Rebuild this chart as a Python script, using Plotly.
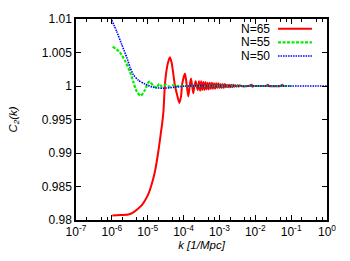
import plotly.graph_objects as go

# ---- data (log10 k, C2) ----
red_logk = [-5.988, -5.75, -5.542, -5.40, -5.263, -5.16, -5.076, -4.98, -4.889, -4.797, -4.705, -4.630,
            -4.593, -4.560, -4.518, -4.443, -4.379, -4.33, -4.287, -4.24, -4.192, -4.119, -4.07, -4.036,
            -3.960, -3.91, -3.868, -3.83, -3.793, -3.76, -3.729, -3.70, -3.662, -3.635, -3.606,
            -3.57, -3.54, -3.51, -3.48, -3.45, -3.42, -3.39, -3.36, -3.33, -3.30, -3.27, -3.24, -3.21,
            -3.18, -3.15, -3.12, -3.09, -3.06, -3.03, -3.00, -2.97, -2.94, -2.91, -2.88, -2.85, -2.82,
            -2.79, -2.76, -2.73, -2.70, -2.67, -2.64, -2.61, -2.58, -2.55, -2.52, -2.49, -2.46, -2.43,
            -2.40, -2.20, -2.10, -2.08, -2.05, -1.70, -1.65, -1.62, -1.30, -1.25, -1.22, -1.15]
red_c2 = [0.98068, 0.98075, 0.98083, 0.98115, 0.98170, 0.98225, 0.98291, 0.98390, 0.98534, 0.98728,
          0.99019, 0.99311, 0.99456, 0.99630, 1.00039, 1.00330, 1.00428, 1.00340, 1.00185, 1.00000,
          0.99893, 0.99748, 0.99850, 1.00039, 1.00185, 1.00000, 0.99845, 1.00000, 1.00112, 1.00000,
          0.99893, 1.00000, 1.00072, 1.00000, 0.99941,
          1.0007, 0.9993, 1.0007, 0.9994, 1.0006, 0.9994, 1.0006, 0.9995, 1.0005, 0.9995, 1.0005,
          0.9996, 1.0005, 0.9996, 1.0004, 0.9996, 1.0004, 0.9997, 1.0004, 0.9997, 1.0003, 0.9997,
          1.0003, 0.9997, 1.0003, 0.9998, 1.0002, 0.9998, 1.0002, 0.9998, 1.0002, 0.9998, 1.0002,
          0.9999, 1.0001, 0.9999, 1.0001, 0.9999, 1.0001,
          1.0000, 1.0000, 1.0002, 0.9999, 1.0000, 1.0000, 1.0002, 1.0000, 1.0000, 1.0002, 1.0000, 1.0000]

green_logk = [-5.977, -5.773, -5.634, -5.494, -5.402, -5.307, -5.196, -5.076, -4.984, -4.936, -4.844,
              -4.750, -4.677, -4.60, -4.50, -4.40, -4.30, -4.20, -4.00, -3.50, -3.00, -2.00, -1.00]
green_c2 = [1.00588, 1.00500, 1.00378, 1.00209, 1.00064, 0.99918, 0.99854, 0.99941, 1.00053, 1.00064,
            0.99999, 0.99980, 1.00029, 0.99990, 1.00020, 0.99990, 1.00010, 1.00000, 1.00000, 1.00000,
            1.00000, 1.00000, 1.00000]

blue_logk = [-6.004, -5.865, -5.726, -5.586, -5.494, -5.402, -5.263, -5.076, -4.844, -4.566, -4.287,
             -3.913, -3.00, -2.00, -1.00, 0.00]
blue_c2 = [1.00985, 1.00815, 1.00621, 1.00428, 1.00282, 1.00170, 1.00087, 1.00029, 0.99980, 0.99966,
           0.99980, 1.00000, 1.00000, 1.00000, 1.00000, 1.00000]

series_names = ["N=65", "N=55", "N=50"]
x_tick_exps = [-7, -6, -5, -4, -3, -2, -1, 0]
y_ticks = [0.98, 0.985, 0.99, 0.995, 1.0, 1.005, 1.01]
y_tick_text = ["0.98", "0.985", "0.99", "0.995", "1", "1.005", "1.01"]

FONT = "Liberation Sans, Arial, Helvetica, sans-serif"
RED, GREEN, BLUE = "#ff0000", "#00ee00", "#0000ff"
styles = [dict(color=RED, width=2, dash="solid"),
          dict(color=GREEN, width=2.2, dash="3px,1.5px"),
          dict(color=BLUE, width=1.6, dash="1.5px,1px")]

fig = go.Figure()
for name, lk, c2, st in zip(series_names, [red_logk, green_logk, blue_logk],
                            [red_c2, green_c2, blue_c2], styles):
    fig.add_trace(go.Scatter(x=[10 ** v for v in lk], y=c2, mode="lines", name=name,
                             line=dict(color=st["color"], width=st["width"], dash=st["dash"],
                                       shape="spline", smoothing=0.6),
                             showlegend=False))

minor_vals = [m * 10 ** e for e in x_tick_exps[:-1] for m in (2, 5, 7.5)]

fig.update_layout(
    width=350, height=261,
    margin=dict(l=76, r=23, t=14, b=41),
    paper_bgcolor="white", plot_bgcolor="white",
    font=dict(family=FONT, size=12, color="black"),
    xaxis=dict(type="log", range=[-7, 0],
               tickvals=[10 ** e for e in x_tick_exps],
               ticktext=[f"10<sup>{e}</sup>" for e in x_tick_exps],
               ticks="inside", ticklen=5, tickwidth=1, tickcolor="black",
               minor=dict(ticks="inside", ticklen=3, tickcolor="black", tickvals=minor_vals),
               showline=True, linecolor="black", linewidth=1.5, mirror="ticks",
               showgrid=False, zeroline=False,
               tickfont=dict(size=12),
               title=dict(text="<i>k [1/Mpc]</i>", font=dict(size=11.5), standoff=2)),
    yaxis=dict(range=[0.98, 1.01], tickvals=y_ticks, ticktext=y_tick_text,
               ticks="inside", ticklen=5, tickwidth=1, tickcolor="black",
               showline=True, linecolor="black", linewidth=1.5, mirror="ticks",
               showgrid=False, zeroline=False,
               tickfont=dict(size=12),
               title=dict(text="<i>C<sub>2</sub>(k)</i>", font=dict(size=11.5), standoff=22)),
)

# gnuplot-style key: label text on the left, line sample on the right
key_y = [0.952, 0.884, 0.816]
for name, st, yk in zip(series_names, styles, key_y):
    fig.add_annotation(xref="paper", yref="paper", x=0.775, y=yk, text=name, showarrow=False,
                       xanchor="right", yanchor="middle", height=12, borderpad=0,
                       font=dict(size=12, family=FONT))
    fig.add_shape(type="line", xref="paper", yref="paper", x0=0.805, x1=0.94, y0=yk, y1=yk,
                  line=dict(color=st["color"], width=st["width"], dash=st["dash"]))

fig.write_html("out.html", config={"displayModeBar": False},
               post_script="document.body.style.margin='0';")
